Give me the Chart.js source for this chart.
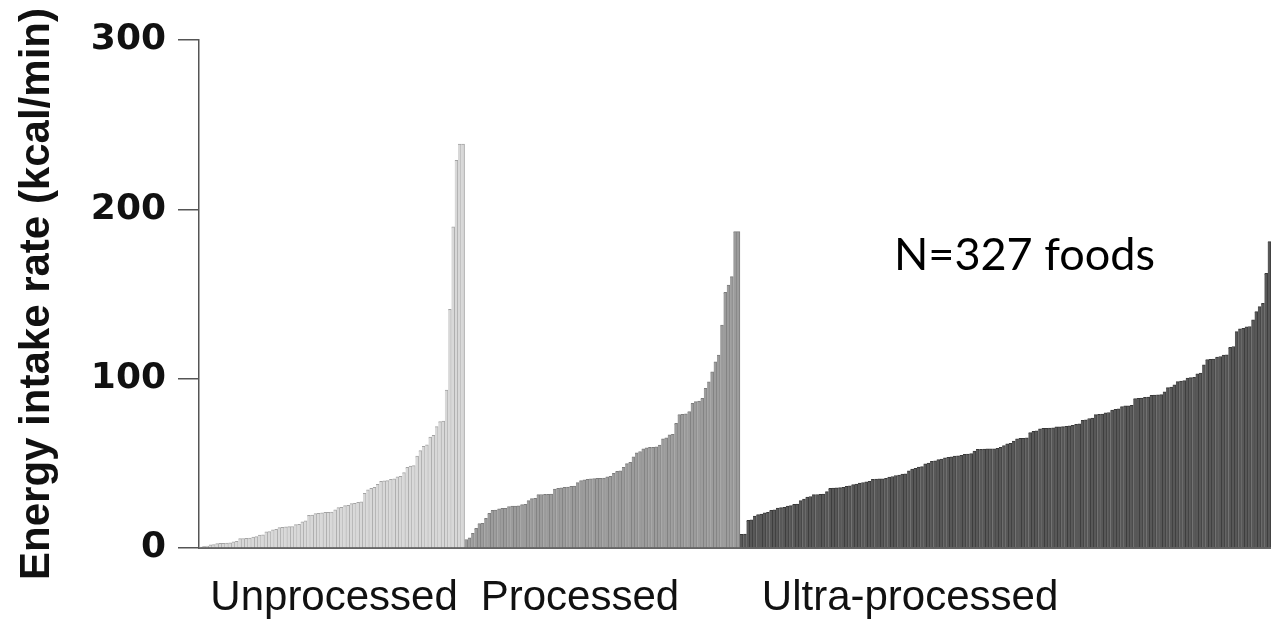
<!DOCTYPE html>
<html>
<head>
<meta charset="utf-8">
<script src="https://cdn.jsdelivr.net/npm/chart.js@4.4.1/dist/chart.umd.min.js"></script>
<style>
html,body{margin:0;padding:0;background:#fff;}
#wrap{width:1271px;height:644px;position:relative;}
</style>
</head>
<body>
<div id="wrap"><canvas id="c"></canvas></div>
<script>
const groupNames = ['Unprocessed', 'Processed', 'Ultra-processed'];
const yTitle = 'Energy intake rate (kcal/min)';
const noteText = 'N=327 foods';
const yTicks = [0, 100, 200, 300];

const unprocessed = [0.5, 1, 1.2, 1.8, 2, 2.6, 2.8, 2.8, 2.9, 3,
  3.6, 4, 5.5, 5.6, 5.7, 5.8, 6.5, 6.7, 7.6, 7.8,
  9.5, 9.7, 10.8, 11, 12, 12.2, 12.5, 12.6, 12.7, 13.8,
  14, 15.5, 16, 19.3, 19.5, 20.3, 20.5, 20.8, 21, 21,
  21.2, 22.5, 23.8, 24, 25, 25.2, 26.2, 26.4, 27, 27.2,
  32.3, 34.3, 35.3, 35.8, 37.6, 39.4, 39.6, 39.8, 40.6, 40.8,
  42, 42.3, 44.5, 47.6, 48.4, 48.6, 54.3, 57.5, 60, 61,
  65.5, 66.5, 71.7, 74.6, 75, 93.3, 141, 189.6, 229, 238.6,
  238.6];

const processed = [5, 6, 8.7, 11.6, 14.4, 14.6, 17.5, 20.5, 22.2, 22.4,
  23.2, 23.4, 23.5, 24.5, 24.7, 24.8, 24.9, 25.6, 25.8, 28,
  29.2, 29.4, 31.5, 31.6, 31.7, 31.7, 31.8, 34.8, 35.2, 35.6,
  35.8, 36, 36.4, 36.6, 38.6, 39.8, 40.2, 40.6, 40.8, 41,
  41.1, 41.2, 41.3, 42, 42.3, 44.1, 45.3, 45.6, 47.6, 49.8,
  50.6, 53.9, 56.2, 57, 58.5, 59.2, 59.4, 59.5, 59.7, 60.8,
  64.5, 65, 66.8, 67.2, 73.6, 78.8, 79, 79.2, 80.5, 85.5,
  86.4, 86.8, 88.4, 94.3, 98.2, 104, 110, 114, 131.7, 151,
  155.3, 160.3, 186.8, 186.8];

const ultraProcessed = [8, 8.2, 16.3, 16.7, 18.9, 19.7, 20, 20.7, 21, 22.2,
  22.5, 23.6, 23.8, 24, 24.8, 25, 25.8, 26, 28, 28.9,
  30.1, 30.4, 31.5, 31.6, 31.7, 31.9, 33.3, 35.2, 35.4, 35.6,
  35.7, 35.8, 36.4, 36.7, 37.4, 37.7, 38.4, 38.7, 39.1, 39.3,
  40.5, 40.7, 40.8, 40.9, 41.1, 41.9, 42.2, 42.8, 43, 43.6,
  43.8, 45.5, 46.6, 47, 47.8, 48.1, 49.7, 50.1, 51.2, 51.5,
  52.2, 52.5, 53.3, 53.6, 53.8, 54.3, 54.5, 54.7, 55.3, 55.5,
  55.7, 57.3, 58.2, 58.3, 58.4, 58.5, 58.5, 58.6, 58.8, 59.5,
  60.5, 61.5, 61.8, 63.2, 64.5, 64.7, 64.8, 65, 68.1, 68.9,
  69.2, 70.4, 70.6, 70.7, 70.8, 70.9, 71.5, 71.6, 71.7, 71.9,
  72.2, 72.4, 73.1, 73.3, 75.4, 75.7, 76.5, 76.7, 78.8, 79,
  79.1, 79.8, 80, 81.5, 81.9, 82.2, 83.5, 83.9, 84, 84.2,
  88.2, 88.4, 88.5, 89, 89.1, 90.2, 90.3, 90.4, 90.6, 92.3,
  94.7, 95, 96.3, 98.3, 98.6, 98.8, 100.3, 100.6, 100.8, 102.9,
  103.3, 108.1, 111.2, 111.4, 111.6, 112.8, 113.1, 113.9, 114.1, 118.5,
  119, 127.8, 129.5, 129.8, 130.6, 130.8, 134.7, 139.6, 142.5, 144.5,
  162.2, 180.9];

const groups = [unprocessed, processed, ultraProcessed];
const fillColors = ['#d8d8d8', '#9c9c9c', '#585858'];
const edgeColors = ['#a4a4a4', '#7c7c7c', '#383838'];

const values = [];
const bg = [];
const bc = [];
groups.forEach((g, gi) => {
  g.forEach(v => { values.push(v); bg.push(fillColors[gi]); bc.push(edgeColors[gi]); });
});
const labels = values.map((_, i) => String(i + 1));

// group label anchor positions (in bar-index units)
const groupLabelAt = [40.7, 115.7, 216.4];

const textPlugin = {
  id: 'texts',
  afterDraw(chart) {
    const {ctx, chartArea, scales} = chart;
    const x = scales.x, y = scales.y;
    ctx.save();
    ctx.fillStyle = '#111';
    ctx.textAlign = 'center';
    ctx.textBaseline = 'middle';
    ctx.font = '42px "Liberation Sans", Arial, sans-serif';
    groupNames.forEach((name, i) => {
      ctx.fillText(name, x.getPixelForValue(groupLabelAt[i]), chartArea.bottom + 50);
    });
    ctx.font = '45px Lato, "Open Sans", sans-serif';
    ctx.fillStyle = '#000';
    ctx.fillText(noteText, x.getPixelForValue(251.3), y.getPixelForValue(173));
    ctx.restore();
  }
};

new Chart(document.getElementById('c'), {
  type: 'bar',
  data: {
    labels: labels,
    datasets: [{
      data: values,
      backgroundColor: bg,
      borderColor: bc,
      borderWidth: {top: 1, right: 1, left: 0, bottom: 0},
      borderSkipped: false,
      barPercentage: 1,
      categoryPercentage: 1
    }]
  },
  options: {
    responsive: true,
    maintainAspectRatio: false,
    animation: false,
    events: [],
    layout: {padding: {top: 40, right: 0, left: 0, bottom: 0}},
    plugins: {legend: {display: false}, tooltip: {enabled: false}, title: {display: false}},
    scales: {
      x: {
        grid: {display: false, drawTicks: false},
        ticks: {display: false},
        border: {display: true, color: '#666', width: 2},
        afterFit(scale) { scale.height = 96; }
      },
      y: {
        min: 0, max: 300,
        afterBuildTicks(scale) { scale.ticks = yTicks.map(v => ({value: v})); },
        afterFit(scale) { scale.width = 199; },
        grid: {display: true, drawOnChartArea: false, drawTicks: true, tickLength: 21, color: '#555', lineWidth: 1.5},
        border: {display: true, color: '#555', width: 1.5},
        ticks: {
          padding: 12,
          color: '#111',
          font: {family: '"DejaVu Sans", sans-serif', size: 36, weight: 'bold'}
        },
        title: {
          display: true,
          text: yTitle,
          color: '#111',
          padding: {top: 12, bottom: 0},
          font: {family: '"Liberation Sans", Arial, sans-serif', size: 42, weight: 'bold'}
        }
      }
    }
  },
  plugins: [textPlugin]
});
</script>
</body>
</html>
